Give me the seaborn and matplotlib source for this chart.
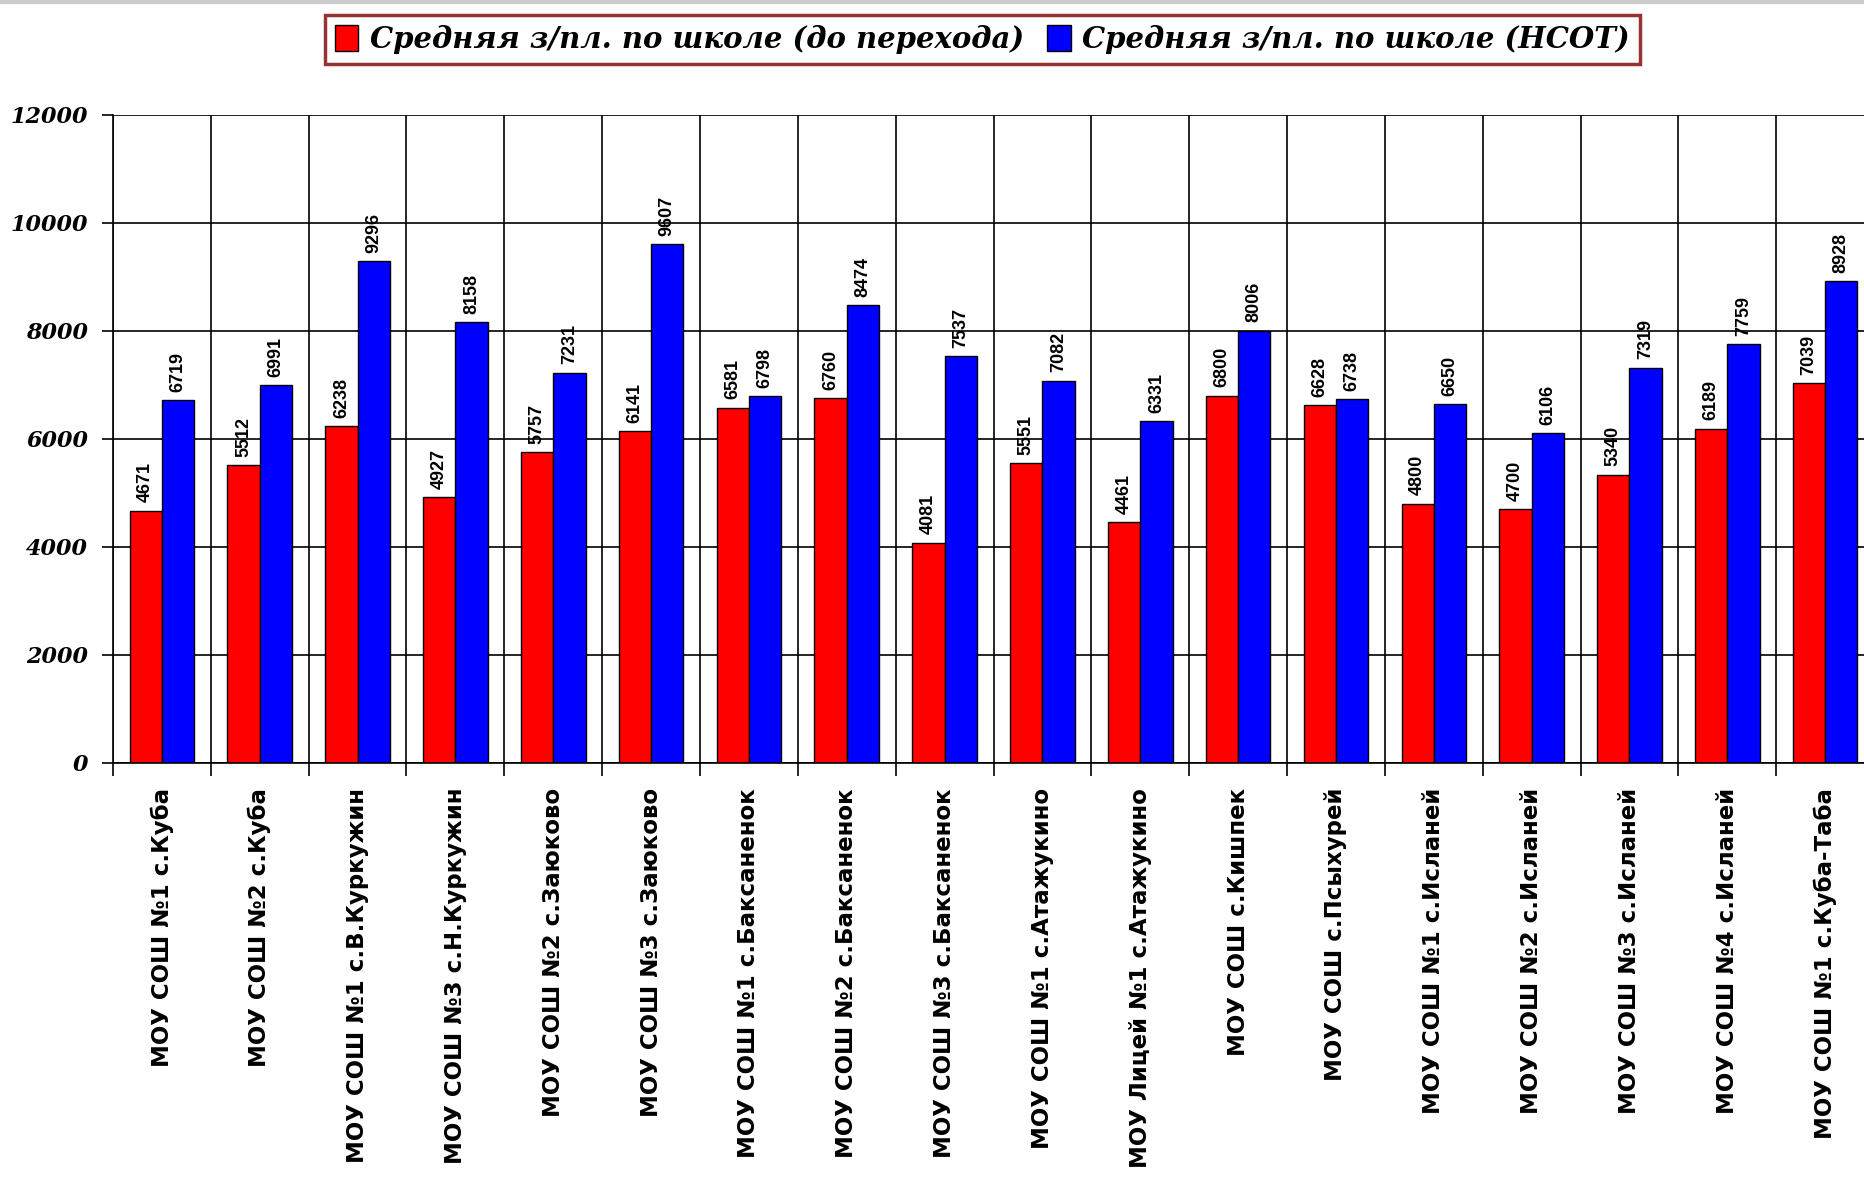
import matplotlib
matplotlib.use("Agg")
import matplotlib.pyplot as plt
from matplotlib.lines import Line2D
import seaborn as sns
import pandas as pd
import numpy as np

schools = [
    "МОУ СОШ №1 с.Куба",
    "МОУ СОШ №2 с.Куба",
    "МОУ СОШ №1 с.В.Куркужин",
    "МОУ СОШ №3 с.Н.Куркужин",
    "МОУ СОШ №2 с.Заюково",
    "МОУ СОШ №3 с.Заюково",
    "МОУ СОШ №1 с.Баксаненок",
    "МОУ СОШ №2 с.Баксаненок",
    "МОУ СОШ №3 с.Баксаненок",
    "МОУ СОШ №1 с.Атажукино",
    "МОУ Лицей №1 с.Атажукино",
    "МОУ СОШ с.Кишпек",
    "МОУ СОШ с.Псыхурей",
    "МОУ СОШ №1 с.Исланей",
    "МОУ СОШ №2 с.Исланей",
    "МОУ СОШ №3 с.Исланей",
    "МОУ СОШ №4 с.Исланей",
    "МОУ СОШ №1 с.Куба-Таба",
]
before = [4671, 5512, 6238, 4927, 5757, 6141, 6581, 6760, 4081, 5551, 4461, 6800, 6628, 4800, 4700, 5340, 6189, 7039]
nsot = [6719, 6991, 9296, 8158, 7231, 9607, 6798, 8474, 7537, 7082, 6331, 8006, 6738, 6650, 6106, 7319, 7759, 8928]
series_names = ["Средняя з/пл. по школе (до перехода)", "Средняя з/пл. по школе (НСОТ)"]
y_ticks = [0, 2000, 4000, 6000, 8000, 10000, 12000]

df = pd.DataFrame({
    "school": schools * 2,
    "value": before + nsot,
    "series": [series_names[0]] * len(schools) + [series_names[1]] * len(schools),
})

sns.set_theme(style="white")
plt.rcParams["font.family"] = ["Liberation Sans", "DejaVu Sans"]
plt.rcParams["text.color"] = "black"
plt.rcParams["xtick.color"] = "black"
plt.rcParams["ytick.color"] = "black"
plt.rcParams["axes.labelcolor"] = "black"

fig = plt.figure(figsize=(18.64, 11.94), dpi=100)
ax = fig.add_axes([0.0606, 0.361, 0.9448, 0.5427])

sns.barplot(data=df, x="school", y="value", hue="series", order=schools,
            hue_order=series_names, palette=["#FF0000", "#0000FF"],
            width=0.66, gap=0, edgecolor="black", linewidth=1.0,
            saturation=1, ax=ax, legend=True, errorbar=None)

ax.set_ylim(0, 12000)
ax.set_xlim(-0.5, len(schools) - 0.5)
ax.set_yticks(y_ticks)
ax.set_yticklabels([str(v) for v in y_ticks], fontfamily="DejaVu Serif",
                   fontweight="bold", fontstyle="italic", fontsize=16, color="black")
ax.set_xlabel("")
ax.set_ylabel("")

ax.set_xticks(range(len(schools)))
ax.set_xticklabels(schools, rotation=90, ha="center", va="top",
                   fontsize=16.5, fontweight="bold", fontfamily="DejaVu Sans", color="black")
ax.set_xticks(np.arange(-0.5, len(schools), 1.0), minor=True)
ax.tick_params(axis="x", which="major", length=0, pad=18)
ax.tick_params(axis="x", which="minor", length=9, width=1.2, color="black", direction="out", bottom=True)
ax.tick_params(axis="y", which="major", length=8, width=1.2, color="black", direction="out", left=True, pad=10)

ax.grid(False)
ax.grid(True, axis="y", which="major", color="black", linewidth=1.2)
ax.grid(True, axis="x", which="minor", color="black", linewidth=1.2)
ax.set_axisbelow(True)

for s in ["top", "right"]:
    ax.spines[s].set_visible(False)
for s in ["left", "bottom"]:
    ax.spines[s].set_color("black")
    ax.spines[s].set_linewidth(1.2)

for cont in ax.containers:
    ax.bar_label(cont, labels=[str(int(v)) for v in cont.datavalues],
                 rotation=90, padding=6, fontsize=13, fontweight="bold", color="black")

handles, labels = ax.get_legend_handles_labels()
ax.get_legend().remove()
leg = fig.legend(handles, labels, loc="center", bbox_to_anchor=(0.527, 0.967),
                 ncol=2, frameon=True, fancybox=False, edgecolor="#7a0000",
                 handlelength=0.8, handleheight=1.0, handletextpad=0.4,
                 columnspacing=0.8, borderpad=0.35,
                 prop={"family": "DejaVu Serif", "weight": "bold",
                       "style": "italic", "size": 21})
leg.get_frame().set_linewidth(2.5)
for t in leg.get_texts():
    t.set_color("black")

fig.add_artist(Line2D([0, 1], [0.998, 0.998], transform=fig.transFigure,
                      color="#cccccc", linewidth=3))

fig.savefig("out.png", dpi=100, facecolor="white")
